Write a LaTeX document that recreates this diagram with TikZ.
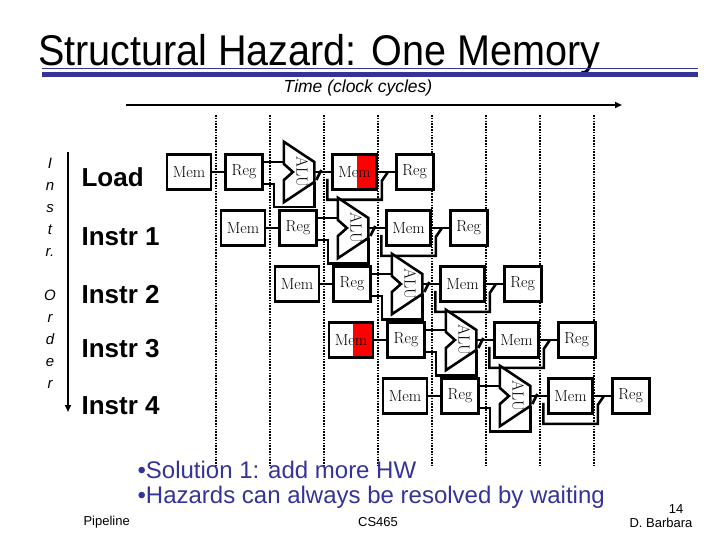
\documentclass[tikz,border=0pt]{standalone}
\usepackage{fontspec}
\setsansfont{Liberation Sans}
\usepackage{xcolor}
\usepackage{tikz}
\usetikzlibrary{arrows.meta,positioning,calc}

\definecolor{slideblue}{RGB}{51,51,153}

\begin{document}
\begin{tikzpicture}[x=1pt, y=-1pt,
  unit/.style={draw, line width=2.6pt, fill=white, minimum height=35pt,
    inner sep=0pt, font=\fontsize{16}{16}\selectfont},
  memb/.style={unit, minimum width=44pt},
  regb/.style={unit, minimum width=37pt},
  hot/.style={path picture={\fill[red]
    ($(path picture bounding box.north east)+(-20pt,0pt)$)
    rectangle (path picture bounding box.south east);}},
  cold/.style={},
  alub/.style={minimum width=30pt, minimum height=60pt, inner sep=0pt},
  wire/.style={line width=2.6pt},
  tick/.style={line width=2.4pt, dash pattern=on 1.6pt off 1.2pt},
  rowlbl/.style={anchor=west, font=\sffamily\bfseries\fontsize{26}{26}\selectfont},
  bullet/.style={anchor=west, text=slideblue, font=\sffamily\fontsize{24}{24}\selectfont},
  foot/.style={font=\sffamily\fontsize{13}{13}\selectfont},
  arr/.style={-{Triangle[length=7pt,width=6pt]}, line width=2.2pt},
]
  \useasboundingbox (0,0) rectangle (720,540);

  % title and rule
  \node[anchor=base west, inner sep=0pt, font=\sffamily\fontsize{43}{43}\selectfont] (title)
    at (38,66) {\scalebox{0.92}[1]{Structural Hazard: One Memory}};
  \draw[slideblue, line width=1pt] (42,69) -- (698,69);
  \draw[slideblue, line width=4.5pt] (42,74.5) -- (698,74.5);

  % time axis
  \node[font=\sffamily\itshape\fontsize{17.5}{17.5}\selectfont] (time) at (358,88)
    {Time (clock cycles)};
  \coordinate (t0) at (126,105);
  \coordinate (t1) at (622,105);
  \draw[arr] (t0) -- (t1);

  % clock cycle marks
  \foreach \k in {0,...,7}
    \draw[tick] (216+54*\k,115) -- (216+54*\k,466);

  % instruction order
  \node[align=center, font=\sffamily\itshape\fontsize{15}{22}\selectfont,
    anchor=north] (order) at (50,155)
    {I\\n\\s\\t\\r.\\[22pt]O\\r\\d\\e\\r};
  \coordinate (o0) at (68,152);
  \coordinate (o1) at (68,412);
  \draw[arr, line width=1.8pt] (o0) -- (o1);

  \node[rowlbl] (load) at (78,177) {Load};
  \node[rowlbl] (ins1) at (78,237) {Instr 1};
  \node[rowlbl] (ins2) at (78,295) {Instr 2};
  \node[rowlbl] (ins3) at (78,349) {Instr 3};
  \node[rowlbl] (ins4) at (78,406) {Instr 4};

  % pipeline rows
  \foreach \i/\a/\b in {0/hot/cold, 1/cold/cold, 2/cold/cold, 3/cold/hot, 4/cold/cold}{
    \node[memb, \b] (im\i) at (189+54*\i, 172+56*\i) {Mem};
    \node[regb, right=12pt of im\i] (rf\i) {Reg};
    \node[alub, right=20pt of rf\i] (alu\i) {};
    \node[memb, \a, right=17pt of alu\i] (dm\i) {Mem};
    \node[regb, right=17pt of dm\i] (wb\i) {Reg};

    \draw[wire] (im\i) -- (rf\i);
    \draw[wire] ($(rf\i.east)+(0,-10)$) -- ($(alu\i.west)+(0,-10)$);
    \draw[wire] ($(rf\i.east)+(0,12)$) -- ($(alu\i.west)+(-10,12)$)
      |- ($(alu\i.south east)+(0,5)$) -- ($(alu\i.east)+(0,10)$);
    \draw[wire, fill=white] (alu\i.north west) -- ($(alu\i.east)+(0,-10)$)
      -- ($(alu\i.east)+(0,10)$) -- (alu\i.south west)
      -- ($(alu\i.west)+(0,8)$) -- ($(alu\i.west)+(9,0)$)
      -- ($(alu\i.west)+(0,-8)$) -- cycle;
    \node[font=\fontsize{16}{16}\selectfont] (alut\i) at ($(alu\i)+(3,0)$)
      {\rotatebox{-90}{ALU}};

    \draw[wire] (alu\i) -- (dm\i);
    \draw[wire] ($(alu\i.east)+(2,8)$) -- ($(alu\i.east)+(7,-2)$);
    \draw[wire] ($(dm\i.south west)+(-4,-12)$) |- ($(dm\i.south east)+(4,9)$)
      -- ($(dm\i.south east)+(4,-10)$) -- ($(dm\i.east)+(10,0)$);
    \draw[wire] (dm\i) -- (wb\i);
  }

  % notes
  \node[bullet] (sol) at (134,470) {\textbullet Solution 1: add more HW};
  \node[bullet] (wait) at (134,497) {\textbullet Hazards can always be resolved by waiting};

  % footer
  \node[foot, anchor=west] (pipe) at (80,522) {Pipeline};
  \node[foot] (course) at (378,522) {CS465};
  \node[foot] (page) at (676,509) {14};
  \node[foot] (author) at (661,523) {D. Barbara};
\end{tikzpicture}
\end{document}
